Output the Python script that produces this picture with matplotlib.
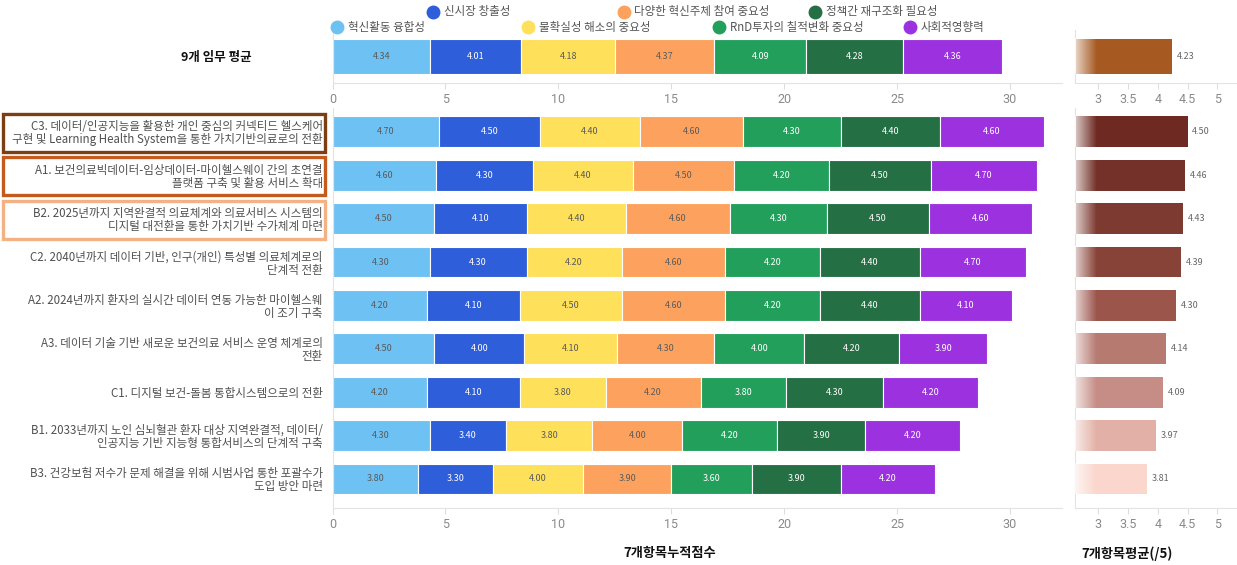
import matplotlib.pyplot as plt
import numpy as np
from matplotlib.lines import Line2D
from matplotlib.patches import Rectangle

plt.rcParams['font.family'] = ['Noto Sans CJK KR', 'DejaVu Sans']

# legend / series names
series = ['혁신활동 융합성', '신시장 창출성', '불확실성 해소의 중요성', '다양한 혁신주체 참여 중요성',
          'RnD투자의 칠적변화 중요성', '정책간 재구조화 필요성', '사회적영향력']
colors = ['#6ec1f3', '#2f5edb', '#fee05a', '#fda25e', '#22a05b', '#256f45', '#9c31e0']
text_colors = ['#5a5a5a', 'white', '#5a5a5a', '#5a5a5a', 'white', 'white', 'white']

tasks = [
    'C3. 데이터/인공지능을 활용한 개인 중심의 커넥티드 헬스케어\n구현 및 Learning Health System을 통한 가치기반의료로의 전환',
    'A1. 보건의료빅데이터-임상데이터-마이헬스웨이 간의 초연결\n플랫폼 구축 및 활용 서비스 확대',
    'B2. 2025년까지 지역완결적 의료체계와 의료서비스 시스템의\n디지털 대전환을 통한 가치기반 수가체계 마련',
    'C2. 2040년까지 데이터 기반, 인구(개인) 특성별 의료체계로의\n단계적 전환',
    'A2. 2024년까지 환자의 실시간 데이터 연동 가능한 마이헬스웨\n이 조기 구축',
    'A3. 데이터 기술 기반 새로운 보건의료 서비스 운영 체계로의\n전환',
    'C1. 디지털 보건-돌봄 통합시스템으로의 전환',
    'B1. 2033년까지 노인 심뇌혈관 환자 대상 지역완결적, 데이터/\n인공지능 기반 지능형 통합서비스의 단계적 구축',
    'B3. 건강보험 저수가 문제 해결을 위해 시범사업 통한 포괄수가\n도입 방안 마련',
]

# scores per criterion (one value per task, same order as tasks)
fusion = [4.70, 4.60, 4.50, 4.30, 4.20, 4.50, 4.20, 4.30, 3.80]
new_market = [4.50, 4.30, 4.10, 4.30, 4.10, 4.00, 4.10, 3.40, 3.30]
uncertainty = [4.40, 4.40, 4.40, 4.20, 4.50, 4.10, 3.80, 3.80, 4.00]
diversity = [4.60, 4.50, 4.60, 4.60, 4.60, 4.30, 4.20, 4.00, 3.90]
rnd = [4.30, 4.20, 4.30, 4.20, 4.20, 4.00, 3.80, 4.20, 3.60]
policy = [4.40, 4.50, 4.50, 4.40, 4.40, 4.20, 4.30, 3.90, 3.90]
social = [4.60, 4.70, 4.60, 4.70, 4.10, 3.90, 4.20, 4.20, 4.20]

# average over the 9 tasks
overall = [4.34, 4.01, 4.18, 4.37, 4.09, 4.28, 4.36]

avg_colors = ['#6e2a22', '#733129', '#7d3a31', '#884338', '#9b554b', '#b67a71', '#c58d85', '#e2b0a6', '#fad6cc']
overall_color = '#a65a22'
box_colors = ['#7b3f12', '#c45a1b', '#f4b183']

W, H = 1237, 565
fig = plt.figure(figsize=(W / 100, H / 100), dpi=100)


def px_axes(l, t, r, b):
    return fig.add_axes([l / W, 1 - b / H, (r - l) / W, (b - t) / H])


def style(ax):
    for s in ['top', 'right']:
        ax.spines[s].set_visible(False)
    for s in ['left', 'bottom']:
        ax.spines[s].set_color('#e3e3e3')
    ax.tick_params(axis='x', colors='#dddddd', labelcolor='#8a8a8a', labelsize=9, length=4)
    ax.tick_params(axis='y', length=0)
    for lab in ax.get_xticklabels():
        lab.set_fontfamily('Roboto')


data = np.array([fusion, new_market, uncertainty, diversity, rnd, policy, social])
avgs = data.mean(axis=0)
xmax = (1062 - 332.5) / 22.58

# top stacked bar: 9-task average
ax_top = px_axes(332.5, 30, 1062, 83)
left = 0
for i, v in enumerate(overall):
    ax_top.barh(0, v, left=left, height=1.0, color=colors[i], edgecolor='white', linewidth=0.8)
    ax_top.text(left + v / 2, 0, f'{v:.2f}', ha='center', va='center', fontsize=6.5, color=text_colors[i])
    left += v
ax_top.set_xlim(0, xmax)
ax_top.set_ylim(-0.75, 0.75)
ax_top.set_yticks([0])
ax_top.set_yticklabels(['9개 임무 평균'], fontsize=9, fontweight='bold', color='#111111')
ax_top.tick_params(axis='y', pad=58)
ax_top.set_xticks(range(0, 31, 5))
style(ax_top)

# main stacked bars
ax = px_axes(332.5, 108, 1062, 508)
y = np.arange(len(tasks))
lefts = np.zeros(len(tasks))
for i in range(len(series)):
    ax.barh(y, data[i], left=lefts, height=0.71, color=colors[i], edgecolor='white', linewidth=0.8)
    for j, v in enumerate(data[i]):
        ax.text(lefts[j] + v / 2, j, f'{v:.2f}', ha='center', va='center', fontsize=6.5, color=text_colors[i])
    lefts += data[i]
ax.set_xlim(0, xmax)
ax.set_ylim(8.67, -0.55)
ax.set_yticks(y)
ax.set_yticklabels(tasks, fontsize=8.3, color='#505050', ma='right', linespacing=1.0)
ax.tick_params(axis='y', pad=7)
ax.set_xticks(range(0, 31, 5))
ax.set_xlabel('7개항목누적점수', fontsize=9.5, fontweight='bold', color='#111111')
ax.xaxis.set_label_coords((670 - 332.5) / 729.5, -0.095)
style(ax)

# boxes around the top-3 task labels
for k, c in enumerate(box_colors):
    yc = 133 + k * 43.4
    fig.add_artist(Rectangle((3 / W, 1 - (yc + 19) / H), 322 / W, 38 / H, transform=fig.transFigure,
                             fill=False, edgecolor=c, linewidth=2.4))

# right panel: averages
x0 = 2.61


def grad_bar(axr, yv, v, h, c):
    axr.barh(yv, v - x0, left=x0, height=h, color=c, edgecolor='none')
    fade = np.ones((1, 50, 4))
    fade[0, :, 3] = np.linspace(0.75, 0.0, 50)
    axr.imshow(fade, extent=(x0, x0 + 0.36, yv - h / 2, yv + h / 2), aspect='auto',
               interpolation='bilinear', zorder=3)


ax_rt = px_axes(1075, 30, 1237, 83)
overall_avg = np.mean(overall)
grad_bar(ax_rt, 0, overall_avg, 1.0, overall_color)
ax_rt.text(overall_avg + 0.08, 0, f'{overall_avg:.2f}', va='center', fontsize=6.5, color='#666666')
ax_rt.set_xlim(x0, 5.33)
ax_rt.set_ylim(-0.75, 0.75)
ax_rt.set_yticks([])
ax_rt.set_xticks([3, 3.5, 4, 4.5, 5])
ax_rt.set_xticklabels(['3', '3.5', '4', '4.5', '5'])
style(ax_rt)

ax_r = px_axes(1075, 108, 1237, 508)
for j, v in enumerate(avgs):
    grad_bar(ax_r, j, v, 0.71, avg_colors[j])
    ax_r.text(v + 0.08, j, f'{v:.2f}', va='center', fontsize=6.5, color='#666666')
ax_r.set_xlim(x0, 5.33)
ax_r.set_ylim(8.67, -0.55)
ax_r.set_yticks([])
ax_r.set_xticks([3, 3.5, 4, 4.5, 5])
ax_r.set_xticklabels(['3', '3.5', '4', '4.5', '5'])
ax_r.set_xlabel('7개항목평균(/5)', fontsize=9.5, fontweight='bold', color='#111111')
ax_r.xaxis.set_label_coords((1127 - 1075) / 162, -0.095)
style(ax_r)

# staggered legend on two rows
for i, name in enumerate(series):
    lx = 337 + i * 95.5
    ly = 27 if i % 2 == 0 else 12
    fig.add_artist(Line2D([lx / W], [1 - ly / H], marker='o', markersize=9, color=colors[i],
                          transform=fig.transFigure))
    fig.text((lx + 11) / W, 1 - ly / H, name, fontsize=8.3, color='#555555', va='center')

fig.savefig('out.png', dpi=100)
